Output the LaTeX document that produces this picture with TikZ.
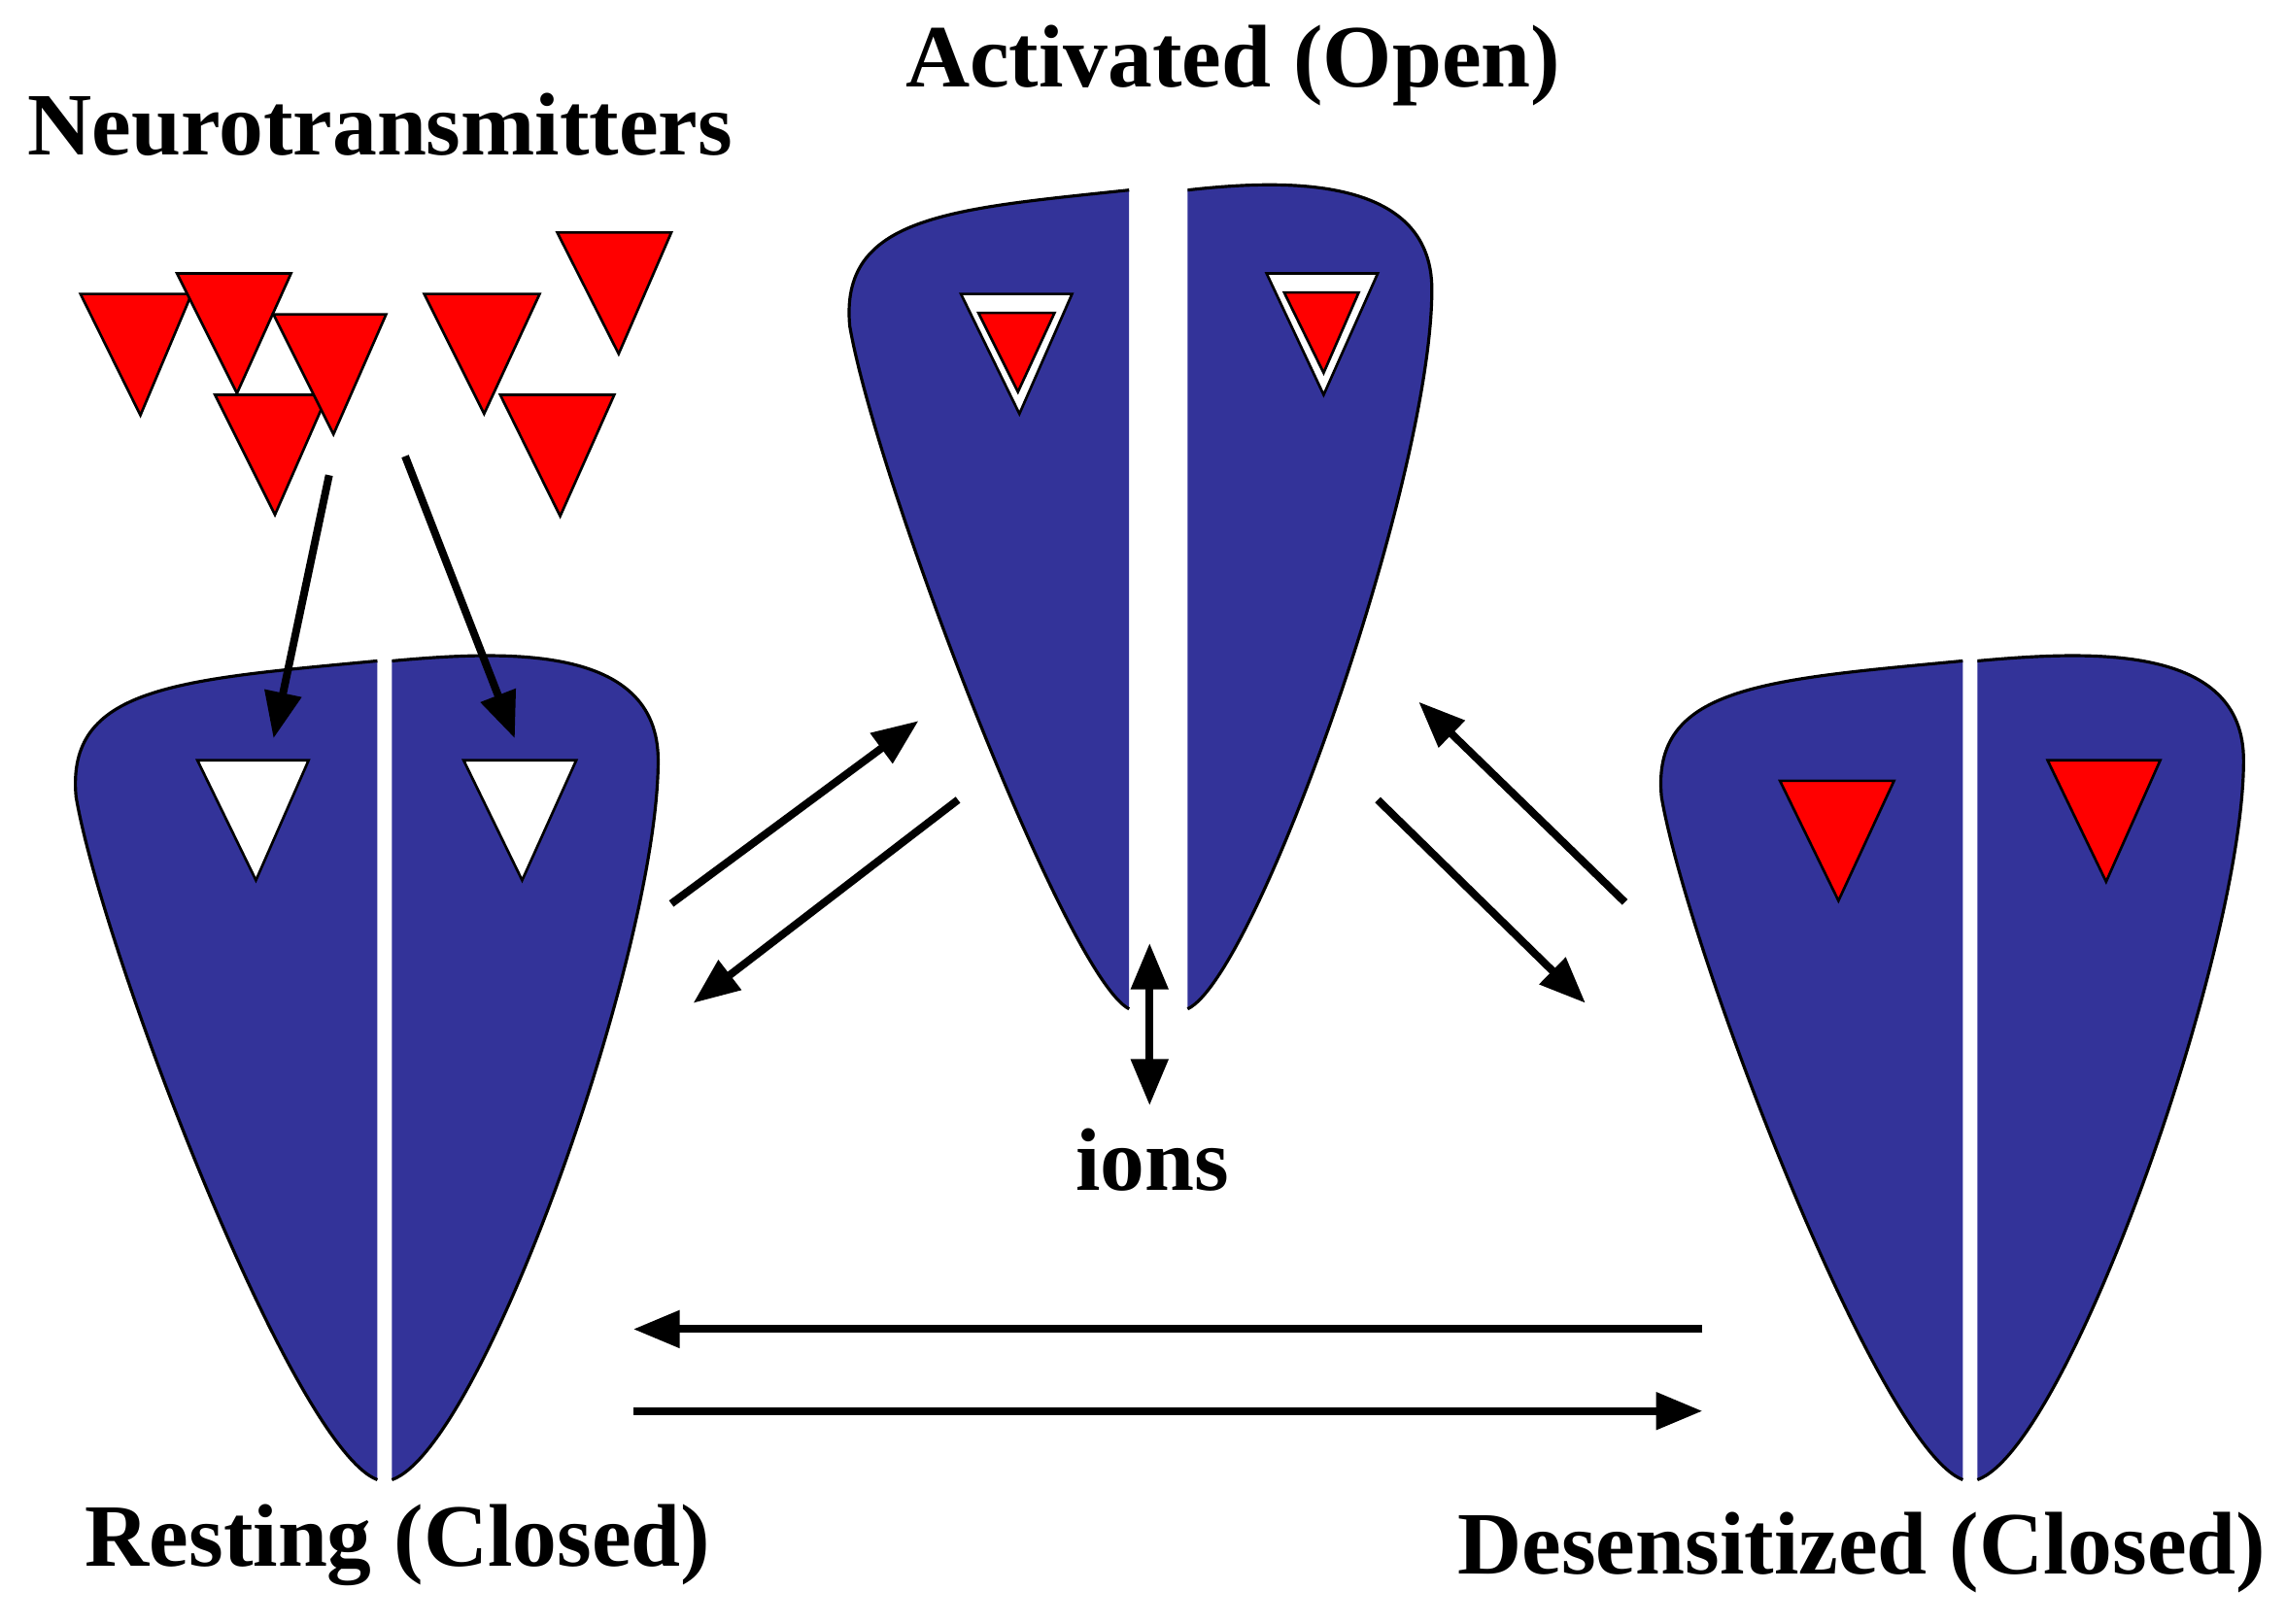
\documentclass[tikz,border=0pt]{standalone}
\usepackage{fontspec}
\setmainfont{Liberation Serif}
\usetikzlibrary{arrows.meta}
\definecolor{chan}{RGB}{51,51,153}
\definecolor{nt}{RGB}{255,0,0}
\tikzset{
  chanfill/.style={fill=chan},
  chanline/.style={draw=black,line width=0.6pt},
  tri/.style={draw=black,line width=0.5pt},
  arr/.style={line width=1.5pt,-{Triangle[length=9pt,width=7pt]}},
  darr/.style={line width=1.5pt,{Triangle[length=9pt,width=7pt]}-{Triangle[length=9pt,width=7pt]}},
  lbl/.style={font=\bfseries\fontsize{17.3}{20}\selectfont,inner sep=0pt}
}
\newcommand\chanshape[3]{% cx, topy, half-gap
 \begin{scope}[shift={(#1,#2)}]
  \path[chanfill] (-#3,560) .. controls (-63,538) and (-193,198) .. (-211,93) .. controls (-218,18) and (-143,13) .. (-#3,0) -- cycle;
  \path[chanfill] (#3,0) .. controls (82,-7) and (187,-12) .. (187,68) .. controls (187,198) and (67,538) .. (#3,560) -- cycle;
  \draw[chanline] (-#3,560) .. controls (-63,538) and (-193,198) .. (-211,93) .. controls (-218,18) and (-143,13) .. (-#3,0);
  \draw[chanline] (#3,0) .. controls (82,-7) and (187,-12) .. (187,68) .. controls (187,198) and (67,538) .. (#3,560);
 \end{scope}}
\newcommand\trix[6]{\path[tri,fill=#6] (#1,#3) -- (#2,#3) -- (#4,#5) -- cycle;}
\begin{document}
\begin{tikzpicture}[x=0.01cm,y=-0.01cm]
\useasboundingbox (0,0) rectangle (1563,1110);
\chanshape{263}{452}{5}
\chanshape{792}{130}{20}
\chanshape{1347}{452}{5}
% resting sites
\trix{135}{211}{520}{175}{602}{white}
\trix{317}{394}{520}{357}{602}{white}
% desensitized
\trix{1217}{1295}{534}{1257}{616}{nt}
\trix{1400}{1477}{520}{1440}{603}{nt}
% activated
\trix{657}{733}{201}{697}{283}{white}
\trix{669}{721}{214}{696}{268}{nt}
\trix{866}{942}{187}{905}{270}{white}
\trix{878}{929}{200}{905}{255}{nt}
% neurotransmitters
\trix{55}{131}{201}{96}{284}{nt}
\trix{121}{199}{187}{162}{269}{nt}
\trix{147}{224}{270}{188}{352}{nt}
\trix{187}{264}{215}{228}{297}{nt}
\trix{290}{369}{201}{331}{283}{nt}
\trix{381}{459}{159}{423}{242}{nt}
\trix{342}{420}{270}{383}{353}{nt}
% coordinates
\coordinate (n1s) at (225,325); \coordinate (n1e) at (187,505);
\coordinate (n2s) at (277,312); \coordinate (n2e) at (352,505);
\coordinate (ra1) at (459,618); \coordinate (ra2) at (628,493);
\coordinate (ar1) at (655,547); \coordinate (ar2) at (474,686);
\coordinate (da1) at (1111,617); \coordinate (da2) at (970,480);
\coordinate (ad1) at (942,547); \coordinate (ad2) at (1084,686);
\coordinate (dr1) at (1164,909); \coordinate (dr2) at (433,909);
\coordinate (rd1) at (433,965); \coordinate (rd2) at (1164,965);
\coordinate (io1) at (786,645); \coordinate (io2) at (786,756);
\draw[arr] (n1s) -- (n1e);
\draw[arr] (n2s) -- (n2e);
\draw[arr] (ra1) -- (ra2);
\draw[arr] (ar1) -- (ar2);
\draw[arr] (da1) -- (da2);
\draw[arr] (ad1) -- (ad2);
\draw[arr] (dr1) -- (dr2);
\draw[arr] (rd1) -- (rd2);
\draw[darr] (io1) -- (io2);
% labels
\node[lbl] (tNT) at (260,85) {Neurotransmitters};
\node[lbl] (tAct) at (843,45) {Activated (Open)};
\node[lbl] (tRest) at (272,1057) {Resting (Closed)};
\node[lbl] (tDes) at (1273,1062) {Desensitized (Closed)};
\node[lbl] (tIons) at (788,793) {ions};
\end{tikzpicture}
\end{document}
